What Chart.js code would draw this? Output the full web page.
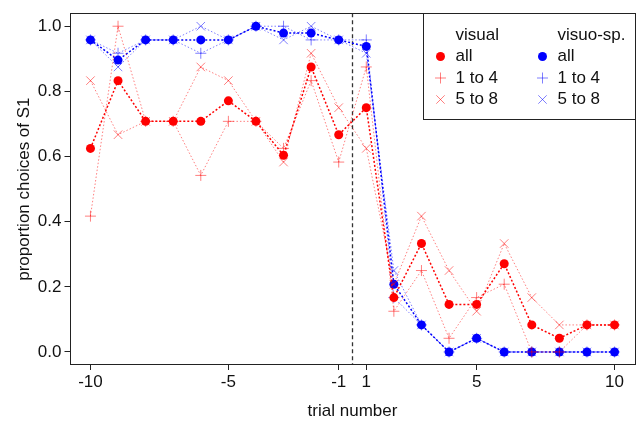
<!DOCTYPE html>
<html><head><meta charset="utf-8">
<script src="https://cdn.jsdelivr.net/npm/chart.js@4/dist/chart.umd.min.js"></script>
<style>html,body{margin:0;padding:0;background:#fff}#wrap{width:638px;height:423px}</style>
</head><body><div id="wrap"><canvas id="c" width="638" height="423"></canvas></div>
<script>
// ---- data ----
const trials = [-10,-9,-8,-7,-6,-5,-4,-3,-2,-1,1,2,3,4,5,6,7,8,9,10];
const xTickTrials = [-10,-5,-1,1,5,10];
const yTicks = [0,0.2,0.4,0.6,0.8,1.0];
const groupNames = ['visual','visuo-sp.'];
const subsetLabels = ['all','1 to 4','5 to 8'];

const visualAll  = [0.625,0.833,0.708,0.708,0.708,0.771,0.708,0.604,0.875,0.667,0.750,0.167,0.333,0.146,0.146,0.271,0.083,0.042,0.083,0.083];
const visual1to4 = [0.417,1.000,0.708,0.708,0.542,0.708,0.708,0.625,0.833,0.583,0.875,0.125,0.250,0.042,0.167,0.208,0.000,0.000,0.083,0.083];
const visual5to8 = [0.833,0.667,0.708,0.708,0.875,0.833,0.708,0.583,0.917,0.750,0.625,0.208,0.417,0.250,0.125,0.333,0.167,0.083,0.083,0.083];

const visuoAll  = [0.958,0.896,0.958,0.958,0.958,0.958,1.000,0.979,0.979,0.958,0.938,0.208,0.083,0.000,0.042,0.000,0.000,0.000,0.000,0.000];
const visuo1to4 = [0.958,0.917,0.958,0.958,0.917,0.958,1.000,1.000,0.958,0.958,0.958,0.167,0.083,0.000,0.042,0.000,0.000,0.000,0.000,0.000];
const visuo5to8 = [0.958,0.875,0.958,0.958,1.000,0.958,1.000,0.958,1.000,0.958,0.917,0.250,0.083,0.000,0.042,0.000,0.000,0.000,0.000,0.000];

// ---- styling ----
const FONT = "'Liberation Sans', Arial, Helvetica, sans-serif";
const RED = '#ff0000', RED_L = 'rgba(255,0,0,0.5)';
const BLUE = '#0000ff', BLUE_L = 'rgba(0,0,255,0.5)';
const PLOT_RIGHT = 635.5;
const pos = t => trials.indexOf(t);
const toXY = arr => arr.map((v,i)=>({x:i, y:v}));

function ds(label, arr, color, kind){
  const base = {label, data: toXY(arr), borderColor: color, backgroundColor: color,
    fill:false, tension:0, pointHoverRadius:0};
  if (kind==='all') return Object.assign(base,{borderWidth:1.5, borderDash:[2,2], pointStyle:'circle', pointRadius:4.5, pointBorderWidth:0, pointBackgroundColor:color});
  if (kind==='plus') return Object.assign(base,{borderWidth:1, borderDash:[1.5,2], pointStyle:'cross', pointRadius:5.5, pointBorderWidth:1, pointBorderColor:color});
  return Object.assign(base,{borderWidth:1, borderDash:[1.5,2], pointStyle:'crossRot', pointRadius:6, pointBorderWidth:1, pointBorderColor:color});
}

// datasets: index 0 drawn on top
const datasets = [
  ds('visual 5 to 8', visual5to8, RED_L, 'x'),
  ds('visual 1 to 4', visual1to4, RED_L, 'plus'),
  ds('visual all', visualAll, RED, 'all'),
  ds('visuo-sp. 5 to 8', visuo5to8, BLUE_L, 'x'),
  ds('visuo-sp. 1 to 4', visuo1to4, BLUE_L, 'plus'),
  ds('visuo-sp. all', visuoAll, BLUE, 'all'),
];

function sym(ctx, kind, color, x, y){
  ctx.save();
  ctx.fillStyle = color; ctx.strokeStyle = color; ctx.lineWidth = 1; ctx.setLineDash([]);
  ctx.beginPath();
  if (kind==='all'){ ctx.arc(x,y,4.5,0,Math.PI*2); ctx.fill(); }
  else if (kind==='plus'){ const r=5.5; ctx.moveTo(x-r,y); ctx.lineTo(x+r,y); ctx.moveTo(x,y-r); ctx.lineTo(x,y+r); ctx.stroke(); }
  else { const r=4.2; ctx.moveTo(x-r,y-r); ctx.lineTo(x+r,y+r); ctx.moveTo(x+r,y-r); ctx.lineTo(x-r,y+r); ctx.stroke(); }
  ctx.restore();
}

const framePlugin = {
  id:'frame',
  afterLayout(chart){
    // widen the plot region to the right edge used by the reference
    const a = chart.chartArea, x = chart.scales.x;
    if (Math.abs(a.right - PLOT_RIGHT) > 0.1){
      a.right = PLOT_RIGHT; a.width = a.right - a.left;
      x.right = PLOT_RIGHT; x.width = x.right - x.left;
      x.configure();
    }
  },
  beforeDatasetsDraw(chart){
    const {ctx, chartArea:a, scales:{x}} = chart;
    const xp = x.getPixelForValue((pos(-1)+pos(1))/2);
    ctx.save();
    ctx.strokeStyle='#333'; ctx.lineWidth=1.3; ctx.setLineDash([4,3]);
    ctx.beginPath(); ctx.moveTo(Math.round(xp)+0.5, a.top); ctx.lineTo(Math.round(xp)+0.5, a.bottom); ctx.stroke();
    ctx.restore();
  },
  afterDatasetsDraw(chart){
    const {ctx, chartArea:a} = chart;
    ctx.save();
    ctx.strokeStyle='#222'; ctx.lineWidth=1; ctx.setLineDash([]);
    const L=Math.round(a.left)+0.5, T=Math.round(a.top)+0.5, R=Math.round(a.right)-0.5, B=Math.round(a.bottom)-0.5;
    ctx.strokeRect(L,T,R-L,B-T);
    // legend
    const w=212, h=106, lx=R-w, ly=T;
    ctx.fillStyle='#fff'; ctx.fillRect(lx,ly,w,h);
    ctx.strokeRect(lx,ly,w,h);
    ctx.font = "17px " + FONT; ctx.textBaseline='middle'; ctx.textAlign='left';
    const cols = [{sx:lx+17, tx:lx+32, c:[RED,RED_L,RED_L]},{sx:lx+119, tx:lx+134, c:[BLUE,BLUE_L,BLUE_L]}];
    const rows = [ly+21.5, ly+43, ly+64.5, ly+86];
    const kinds = ['all','plus','x'];
    cols.forEach((col,ci)=>{
      ctx.fillStyle='#111';
      ctx.fillText(groupNames[ci], col.tx, rows[0]);
      subsetLabels.forEach((lab,ri)=>{
        sym(ctx, kinds[ri], col.c[ri], col.sx, rows[ri+1]);
        ctx.fillStyle='#111';
        ctx.fillText(lab, col.tx, rows[ri+1]);
      });
    });
    ctx.restore();
  }
};

new Chart(document.getElementById('c'), {
  type:'line',
  data:{datasets},
  options:{
    responsive:false, animation:false, devicePixelRatio:1,
    layout:{padding:{left:0,right:2.5,top:11,bottom:0}},
    plugins:{legend:{display:false}, tooltip:{enabled:false}},
    scales:{
      x:{type:'linear', min:-0.76, max:19.76,
        afterBuildTicks:s=>{ s.ticks = xTickTrials.map(t=>({value:pos(t)})); },
        afterFit:s=>{ s.height = 58; s.paddingLeft = 0; s.paddingRight = 0; },
        ticks:{callback:(v)=>String(trials[v]), font:{family:FONT,size:17}, color:'#111', padding:2, maxRotation:0, autoSkip:false},
        grid:{drawOnChartArea:false, drawTicks:true, tickLength:5, color:'#222'},
        border:{display:false},
        title:{display:true, text:'trial number', font:{family:FONT,size:17}, color:'#111', padding:{top:0,bottom:1}}
      },
      y:{type:'linear', min:-0.04, max:1.04,
        afterBuildTicks:s=>{ s.ticks = yTicks.map(v=>({value:v})); },
        afterFit:s=>{ s.width = 69.5; },
        ticks:{callback:(v)=>v.toFixed(1), font:{family:FONT,size:17}, color:'#111', padding:3},
        grid:{drawOnChartArea:false, drawTicks:true, tickLength:5, color:'#222'},
        border:{display:false},
        title:{display:true, text:'proportion choices of S1', font:{family:FONT,size:17}, color:'#111', padding:{top:14,bottom:0}}
      }
    }
  },
  plugins:[framePlugin]
});
</script></body></html>
